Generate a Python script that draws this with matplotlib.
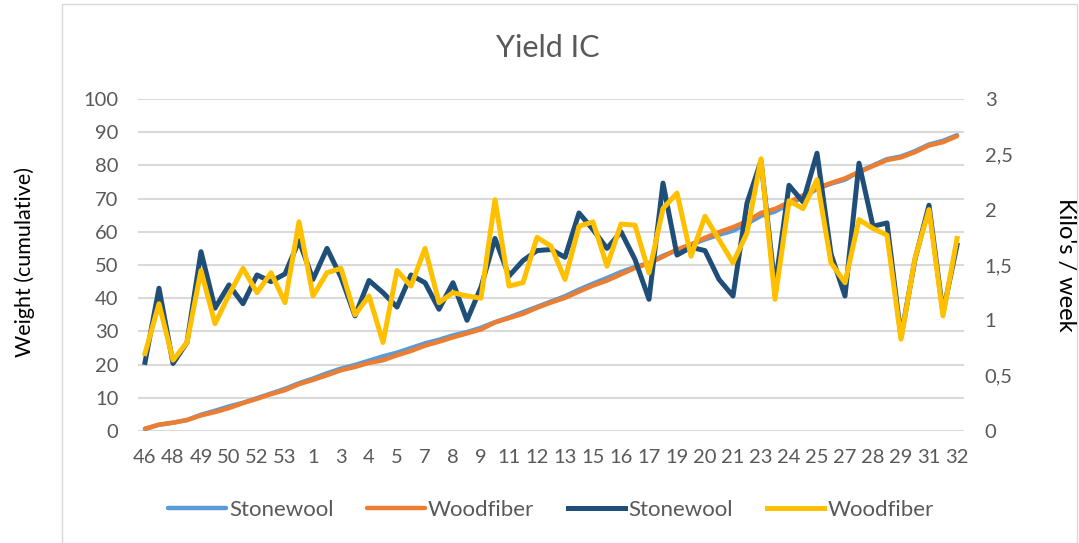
import matplotlib
matplotlib.use("Agg")
import matplotlib.pyplot as plt
from matplotlib.patches import Rectangle

plt.rcParams['font.family'] = ['Lato', 'DejaVu Sans']

# week numbers per harvest (only every 2nd one is labelled in the chart)
weeks = [46, 47, 48, 48, 49, 49, 50, 51, 52, 52, 53, 53, 1, 2, 3, 3, 4, 4,
         5, 6, 7, 7, 8, 8, 9, 10, 11, 11, 12, 12, 13, 14, 15, 15, 16, 16,
         17, 18, 19, 19, 20, 20, 21, 22, 23, 23, 24, 24, 25, 26, 27, 27,
         28, 28, 29, 30, 31, 31, 32]

# kilo's per week (right axis)
stonewool_week = [0.62, 1.29, 0.61, 0.80, 1.62, 1.11, 1.32, 1.15, 1.41, 1.35,
                  1.42, 1.72, 1.37, 1.65, 1.39, 1.04, 1.36, 1.25, 1.12, 1.41,
                  1.34, 1.10, 1.34, 1.00, 1.30, 1.74, 1.40, 1.54, 1.63, 1.64,
                  1.57, 1.97, 1.82, 1.65, 1.80, 1.55, 1.19, 2.24, 1.59, 1.66,
                  1.63, 1.37, 1.22, 2.06, 2.44, 1.30, 2.22, 2.07, 2.51, 1.60,
                  1.22, 2.42, 1.85, 1.88, 0.85, 1.55, 2.04, 1.07, 1.68]
woodfiber_week = [0.70, 1.15, 0.64, 0.80, 1.45, 0.97, 1.23, 1.47, 1.25, 1.43,
                  1.16, 1.89, 1.22, 1.43, 1.47, 1.05, 1.22, 0.80, 1.45, 1.31,
                  1.65, 1.16, 1.25, 1.22, 1.20, 2.09, 1.31, 1.34, 1.75, 1.67,
                  1.37, 1.85, 1.89, 1.49, 1.87, 1.86, 1.43, 2.01, 2.15, 1.58,
                  1.94, 1.73, 1.52, 1.79, 2.46, 1.19, 2.08, 2.01, 2.27, 1.52,
                  1.34, 1.91, 1.83, 1.77, 0.83, 1.56, 2.00, 1.04, 1.74]

# cumulative weight (left axis)
stonewool_cum = [0.6, 1.9, 2.5, 3.3, 4.9, 6.1, 7.4, 8.5, 9.9, 11.3,
                 12.7, 14.4, 15.8, 17.4, 18.8, 19.9, 21.2, 22.5, 23.6, 25.0,
                 26.4, 27.5, 28.8, 29.8, 31.1, 32.8, 34.2, 35.8, 37.4, 39.0,
                 40.6, 42.6, 44.4, 46.1, 47.9, 49.4, 50.6, 52.8, 54.4, 56.1,
                 57.7, 59.1, 60.3, 62.4, 64.8, 66.1, 68.3, 70.4, 72.9, 74.5,
                 75.7, 78.1, 80.0, 81.9, 82.7, 84.3, 86.3, 87.4, 89.1]
woodfiber_cum = [0.7, 1.9, 2.5, 3.3, 4.7, 5.7, 6.9, 8.4, 9.7, 11.1,
                 12.3, 14.1, 15.4, 16.8, 18.3, 19.3, 20.5, 21.3, 22.8, 24.1,
                 25.7, 26.9, 28.2, 29.4, 30.6, 32.7, 34.0, 35.3, 37.1, 38.7,
                 40.1, 42.0, 43.8, 45.3, 47.2, 49.1, 50.5, 52.5, 54.7, 56.2,
                 58.2, 59.9, 61.4, 63.2, 65.7, 66.9, 68.9, 71.0, 73.2, 74.7,
                 76.1, 78.0, 79.8, 81.6, 82.4, 84.0, 86.0, 87.0, 88.8]

left_ticks = [0, 10, 20, 30, 40, 50, 60, 70, 80, 90, 100]
right_ticks = [0, 0.5, 1, 1.5, 2, 2.5, 3]
right_labels = ['0', '0,5', '1', '1,5', '2', '2,5', '3']

grey = '#595959'
W, H = 1079, 543
fig = plt.figure(figsize=(W / 100, H / 100), dpi=100)
fig.patches.append(Rectangle((62 / W, 0), (1077 - 62) / W, (539) / H,
                             transform=fig.transFigure, fill=False,
                             edgecolor='#d9d9d9', lw=1))

ax = fig.add_axes([138 / W, 1 - 431 / H, (964 - 138) / W, (431 - 99) / H])
ax2 = ax.twinx()

x = list(range(len(weeks)))
l1, = ax.plot(x, stonewool_cum, color='#5B9BD5', lw=3.2, solid_capstyle='round')
l2, = ax.plot(x, woodfiber_cum, color='#ED7D31', lw=3.2, solid_capstyle='round')
l3, = ax2.plot(x, stonewool_week, color='#1F4E79', lw=3.6, solid_joinstyle='round')
l4, = ax2.plot(x, woodfiber_week, color='#FFC000', lw=3.6, solid_joinstyle='round')

ax.set_xlim(-0.5, len(weeks) - 0.5)
ax.set_ylim(0, 100)
ax2.set_ylim(0, 3)
ax.set_yticks(left_ticks)
ax2.set_yticks(right_ticks)
ax2.set_yticklabels(right_labels)
ax.set_xticks(x[::2])
ax.set_xticklabels([str(w) for w in weeks[::2]])

ax.grid(axis='y', color='#d9d9d9', lw=1.5)
ax.set_axisbelow(True)
for a in (ax, ax2):
    for s in a.spines.values():
        s.set_visible(False)
    a.tick_params(length=0, labelsize=14.5, labelcolor=grey)
ax.tick_params(axis='y', pad=14)
ax2.tick_params(axis='y', pad=15)
ax.tick_params(axis='x', pad=13)

fig.text(548 / W, 1 - 48 / H, 'Yield IC', ha='center', va='center',
         fontsize=22, color=grey)
fig.text(25 / W, 1 - 262 / H, 'Weight (cumulative)', rotation=90,
         ha='center', va='center', fontsize=15.5, color='black')
fig.text(1066 / W, 1 - 265 / H, "Kilo's / week", rotation=-90,
         ha='center', va='center', fontsize=17, color='black')

fig.legend([l1, l2, l3, l4], ['Stonewool', 'Woodfiber', 'Stonewool', 'Woodfiber'],
           loc='center', bbox_to_anchor=(551 / W, 1 - 510 / H), ncol=4,
           frameon=False, fontsize=16, labelcolor=grey, handlelength=2.6,
           handletextpad=0.15, columnspacing=1.5)

fig.savefig('out.png', dpi=100)
